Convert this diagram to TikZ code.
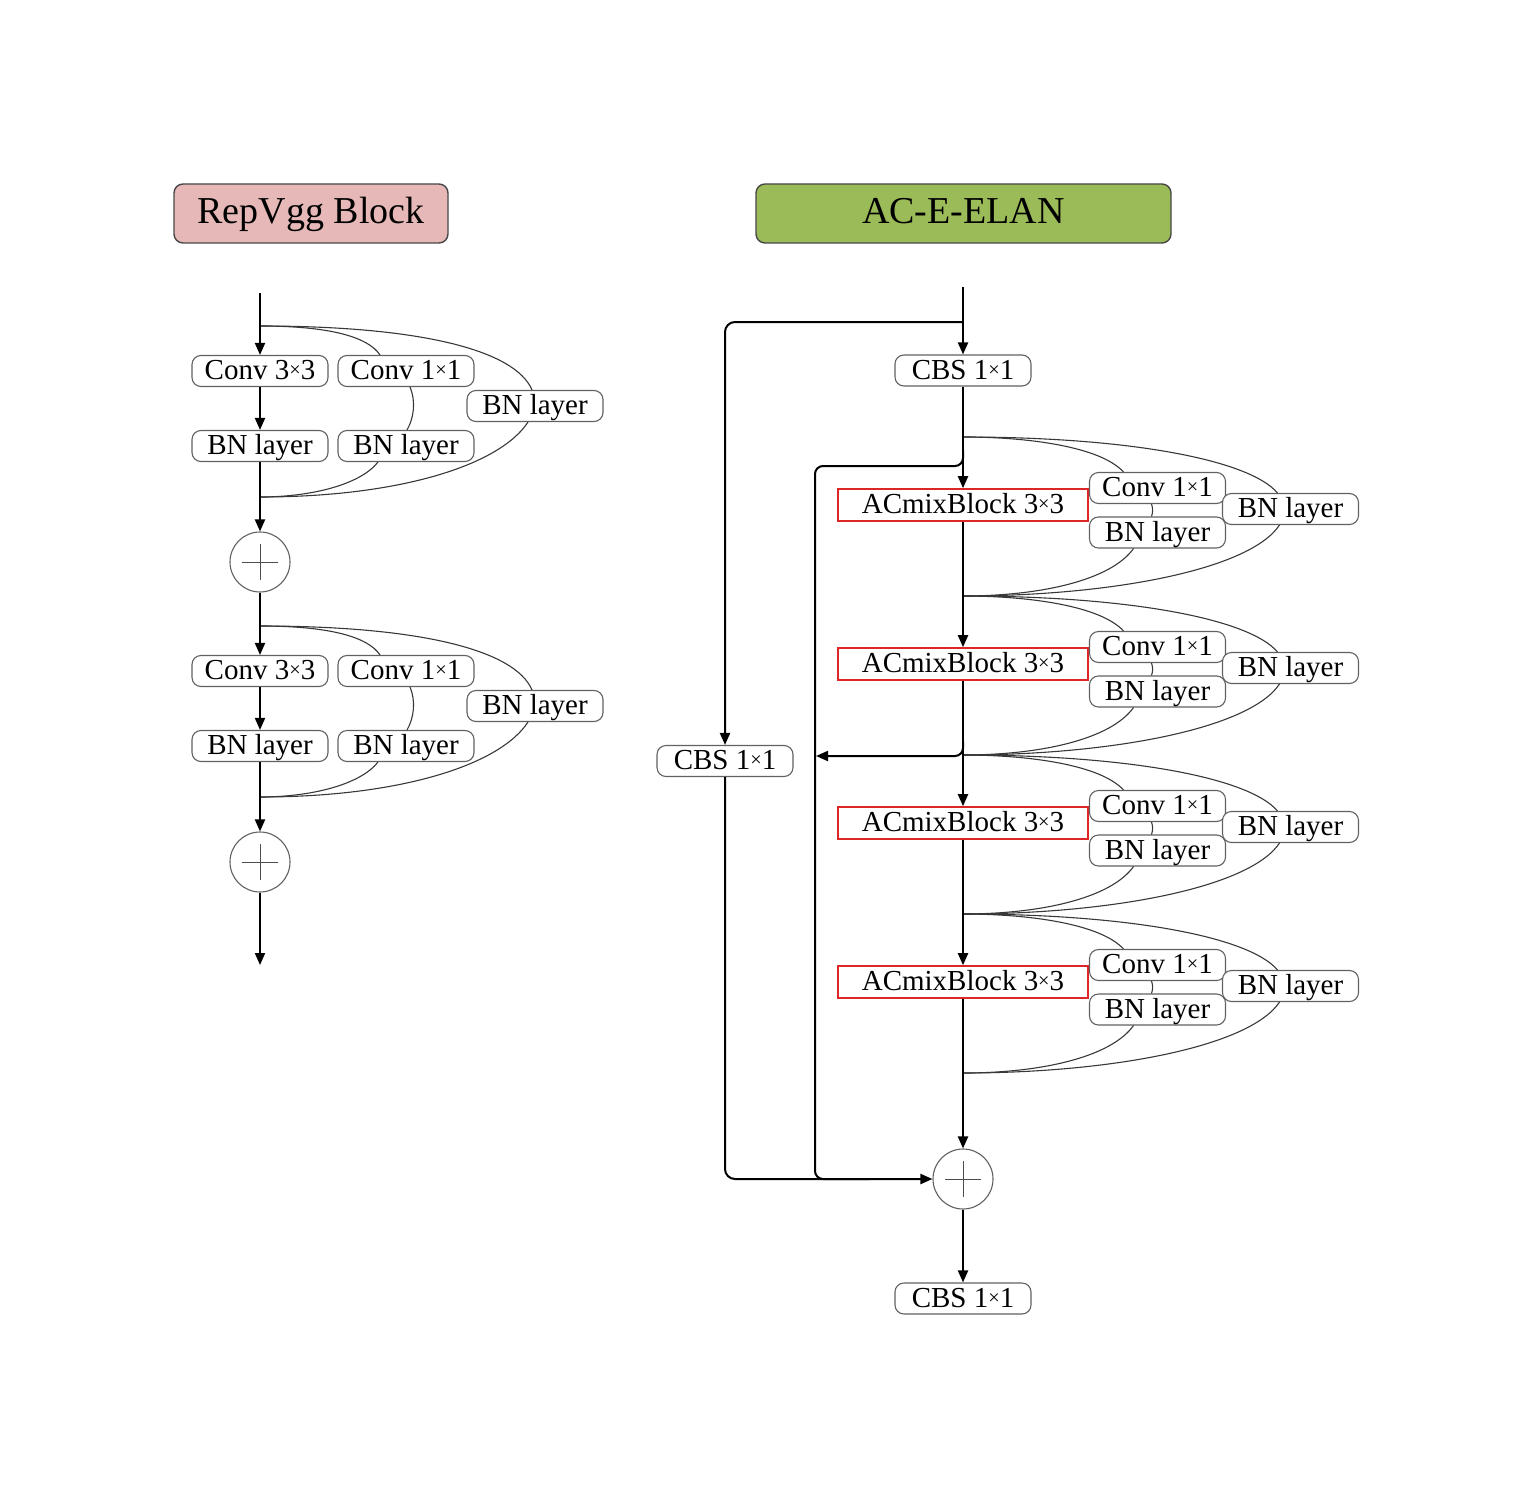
\documentclass[tikz,border=0pt]{standalone}
\usepackage{fontspec}
\setmainfont{Liberation Serif}
\usepackage{graphicx}
\usetikzlibrary{calc,arrows.meta}
\definecolor{pinkc}{RGB}{230,185,184}
\definecolor{greenc}{RGB}{155,187,89}
\definecolor{redc}{RGB}{222,38,38}
\newcommand\tms{\raisebox{0.1em}{\scalebox{0.7}{×}}}
\begin{document}
\begin{tikzpicture}[x=0.5pt,y=-0.5pt,
  box/.style={draw=black!62, line width=0.55pt, rounded corners=4.5pt, fill=white,
    minimum width=68pt, minimum height=15.5pt, inner sep=0pt,
    font=\fontsize{14.5pt}{16pt}\selectfont, text height=10.75pt, text depth=2.25pt},
  redbox/.style={draw=redc, line width=0.8pt, fill=white,
    minimum width=125pt, minimum height=16pt, inner sep=0pt,
    font=\fontsize{14.5pt}{16pt}\selectfont, text height=10.75pt, text depth=2.25pt},
  titlebox/.style={draw=black!72, line width=0.7pt, rounded corners=4.5pt,
    minimum height=29.5pt, inner sep=0pt,
    font=\fontsize{19pt}{21pt}\selectfont, text height=13.5pt, text depth=3.5pt},
  sumc/.style={circle, draw=black!62, line width=0.55pt, fill=white, minimum size=30pt, inner sep=0pt},
  plusl/.style={draw=black!70, line width=0.5pt},
  main/.style={draw=black, line width=1pt},
  arr/.style={main, -{Triangle[length=6pt,width=5pt]}},
  curve/.style={draw=black!78, line width=0.55pt}
]
\useasboundingbox (0,0) rectangle (1530,1498);

% titles
\node[titlebox, fill=pinkc, minimum width=137pt] (t1) at (311,213.5) {RepVgg Block};
\node[titlebox, fill=greenc, minimum width=207.5pt] (t2) at (963.5,213.5) {AC-E-ELAN};

% ---------------- RepVgg ----------------
\foreach \k/\dy in {1/0,2/300} {
  \coordinate (lb\k) at (260,326+\dy);
  \coordinate (lm\k) at (260,497+\dy);
  \node[box] (a\k) at (260,371+\dy) {Conv 3\tms3};
  \node[box] (c\k) at (406,371+\dy) {Conv 1\tms1};
  \node[box] (e\k) at (535,406+\dy) {BN layer};
  \node[box] (d\k) at (260,446+\dy) {BN layer};
  \node[box] (m\k) at (406,446+\dy) {BN layer};
  \node[sumc] (ls\k) at (260,562+\dy) {};
  \draw[plusl] ($(ls\k)+(-18,0)$) -- ($(ls\k)+(18,0)$);
  \draw[plusl] ($(ls\k)+(0,-18)$) -- ($(ls\k)+(0,18)$);
  % branches
  \draw[curve] (lb\k) .. controls +(70,0) and +(-12,-18) .. ($(c\k.north)+(-26,0)$);
  \draw[curve] ($(c\k.south)+(4,0)$) .. controls +(6,14) and +(7,-12) .. ($(m\k.north)+(1,0)$);
  \draw[curve] ($(m\k.south)+(-28,0)$) .. controls +(-18,23) and +(50,0) .. (lm\k);
  \draw[curve] (lb\k) .. controls +(160,0) and +(-17,-40) .. ($(e\k.north)+(-3,0)$);
  \draw[curve] ($(e\k.south)+(-7,0)$) .. controls +(-28,43) and +(140,0) .. (lm\k);
  % main line
  \draw[arr] (a\k.south) -- (d\k.north);
  \draw[arr] (d\k.south) -- (ls\k.north);
}
\coordinate (lin) at (260,293);
\coordinate (lout) at (260,965);
\draw[arr] (lin) -- (a1.north);
\draw[arr] (ls1.south) -- (a2.north);
\draw[arr] (ls2.south) -- (lout);

% ---------------- AC-E-ELAN ----------------
\coordinate (rin) at (963,287);
\node[box] (cbs1) at (963,370.5) {CBS 1\tms1};
\node[box] (cbsL) at (725,761) {CBS 1\tms1};
\node[sumc] (sum) at (963,1179) {};
\draw[plusl] ($(sum)+(-18,0)$) -- ($(sum)+(18,0)$);
\draw[plusl] ($(sum)+(0,-18)$) -- ($(sum)+(0,18)$);
\node[box] (cbs2) at (963,1298.5) {CBS 1\tms1};

\foreach \k in {1,...,5} {
  \coordinate (j\k) at (963,437+159*\k-159);
}
\foreach \k in {1,...,4} {
  \pgfmathsetmacro\b{437+159*(\k-1)}
  \pgfmathtruncatemacro\n{\k+1}
  \node[redbox] (r\k) at (963,\b+68) {ACmixBlock 3\tms3};
  \node[box] (cv\k) at (1157.5,\b+51) {Conv 1\tms1};
  \node[box] (bi\k) at (1157.5,\b+95.5) {BN layer};
  \node[box] (bo\k) at (1290.5,\b+72) {BN layer};
  \draw[curve] (j\k) .. controls +(67,0) and +(-23,-25) .. ($(cv\k.north)+(-34,0)$);
  \draw[curve] ($(cv\k.south)+(-6,0)$) .. controls +(1.5,5) and +(1.5,-5) .. ($(bi\k.north)+(-6,0)$);
  \draw[curve] ($(bi\k.south)+(-24,0)$) .. controls +(-23,32) and +(77,0) .. (j\n);
  \draw[curve] (j\k) .. controls +(167,0) and +(-28,-33) .. ($(bo\k.north)+(-13,0)$);
  \draw[curve] ($(bo\k.south)+(-11,0)$) .. controls +(-30,45) and +(147,0) .. (j\n);
}
\draw[arr] (rin) -- (cbs1.north);
\draw[arr] (cbs1.south) -- (r1.north);
\draw[arr] (r1.south) -- (r2.north);
\draw[arr] (r2.south) -- (r3.north);
\draw[arr] (r3.south) -- (r4.north);
\draw[arr] (r4.south) -- (sum.north);
\draw[arr] (sum.south) -- (cbs2.north);

% side paths
\coordinate (s0) at (963,322);
\coordinate (s0l) at (725,322);
\draw[arr, rounded corners=5pt] (s0) -- (s0l) -- (cbsL.north);
\draw[arr, rounded corners=5pt] (cbsL.south) |- (sum.west);
\coordinate (s1a) at (963,450);
\coordinate (s1) at (963,466);
\coordinate (s1l) at (815,466);
\coordinate (s1b) at (815,1179);
\coordinate (s1c) at (870,1179);
\draw[main, rounded corners=4pt] (s1a) -- (s1) -- (s1l) -- (s1b) -- (s1c);
\coordinate (s2a) at (963,742);
\coordinate (s2) at (963,756);
\coordinate (s2l) at (816,756);
\draw[arr, rounded corners=4pt] (s2a) -- (s2) -- (s2l);
\end{tikzpicture}
\end{document}
